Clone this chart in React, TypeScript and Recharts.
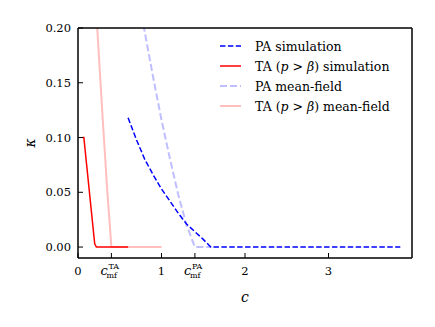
import { LineChart, Line, XAxis, YAxis } from "recharts";

// PA simulation
const paSimC = [0.6, 0.7, 0.8, 0.9, 1.0, 1.1, 1.2, 1.3, 1.4, 1.5, 1.59, 2.0, 2.5, 3.0, 3.5, 3.86];
const paSimK = [0.118, 0.098, 0.08, 0.066, 0.053, 0.042, 0.031, 0.021, 0.014, 0.007, 0, 0, 0, 0, 0, 0];

// TA (p > beta) simulation
const taSimC = [0.055, 0.07, 0.2, 0.22, 0.3, 0.4, 0.5, 0.6];
const taSimK = [0.1, 0.1, 0.003, 0, 0, 0, 0, 0];

// PA mean-field
const paMfC = [0.7, 0.8, 0.9, 1.0, 1.1, 1.2, 1.3, 1.4, 1.6];
const paMfK = [0.239, 0.196, 0.155, 0.116, 0.081, 0.048, 0.02, 0, 0];

// TA (p > beta) mean-field
const taMfC = [0.2, 0.25, 0.3, 0.35, 0.4, 1.0];
const taMfK = [0.24, 0.175, 0.112, 0.052, 0, 0];

const xTicks = [0, 0.4, 1, 1.4, 2, 3];
const yTicks = [0, 0.05, 0.1, 0.15, 0.2];

const zip = (cs: number[], ks: number[]) => cs.map((c, i) => ({ c, k: ks[i] }));

const series = [
  { name: "PA simulation", data: zip(paSimC, paSimK), color: "#0000ff", width: 1.5, dash: "5.5 2.4" },
  { name: "TA (p > β) simulation", data: zip(taSimC, taSimK), color: "#ff0000", width: 1.5, dash: undefined },
  { name: "PA mean-field", data: zip(paMfC, paMfK), color: "#bfbfff", width: 2, dash: "7 3" },
  { name: "TA (p > β) mean-field", data: zip(taMfC, taMfK), color: "#ffbfbf", width: 2, dash: undefined },
];

const FONT = "DejaVu Serif";

function XTick(props: any) {
  const { x, payload } = props;
  const v = payload.value;
  const base = 275;
  if (v === 0.4 || v === 1.4) {
    const sup = v === 0.4 ? "TA" : "PA";
    return (
      <g style={{ fontFamily: FONT }} fill="#000">
        <text x={x - 11} y={base} fontSize={13} fontStyle="italic">c</text>
        <text x={x - 3} y={base - 6} fontSize={8}>{sup}</text>
        <text x={x - 5} y={base + 3} fontSize={8}>mf</text>
      </g>
    );
  }
  return (
    <text x={x} y={base} textAnchor="middle" fontSize={11.5} style={{ fontFamily: FONT }} fill="#000">
      {String(v)}
    </text>
  );
}

function LegendBox() {
  return (
    <g style={{ fontFamily: FONT }}>
      {series.map((s, i) => {
        const y = 46 + i * 20;
        return (
          <g key={s.name}>
            <line x1={220} x2={241} y1={y} y2={y} stroke={s.color} strokeWidth={s.width} strokeDasharray={s.dash} />
            <text x={255} y={y + 4.5} fontSize={12.5} fill="#000">
              {s.name.startsWith("PA") ? (
                s.name
              ) : (
                <>
                  TA (<tspan fontStyle="italic">p</tspan> &gt; <tspan fontStyle="italic">β</tspan>){" "}
                  {s.name.endsWith("simulation") ? "simulation" : "mean-field"}
                </>
              )}
            </text>
          </g>
        );
      })}
    </g>
  );
}

export default function App() {
  return (
    <div style={{ position: "absolute", left: 0, top: 0, width: 435, height: 327, background: "#fff" }}>
      <LineChart width={435} height={327} margin={{ top: 27, right: 22, bottom: 39, left: 28 }}>
        <XAxis
          xAxisId="bottom"
          dataKey="c"
          type="number"
          domain={[0, 4]}
          ticks={xTicks}
          allowDataOverflow
          height={30}
          stroke="#000"
          strokeWidth={1.5}
          tickSize={-5}
          tickMargin={10}
          tickLine={{ stroke: "#000", strokeWidth: 1 }}
          tick={<XTick />}
          interval={0}
        />
        <XAxis
          xAxisId="top"
          orientation="top"
          type="number"
          domain={[0, 4]}
          ticks={xTicks}
          height={1}
          stroke="#000"
          strokeWidth={1.5}
          tickSize={-5}
          tickLine={{ stroke: "#000", strokeWidth: 1 }}
          tick={false}
          interval={0}
        />
        <YAxis
          yAxisId="left"
          type="number"
          domain={[-0.01, 0.2]}
          ticks={yTicks}
          allowDataOverflow
          width={50}
          stroke="#000"
          strokeWidth={1.5}
          tickSize={-5}
          tickMargin={12}
          tickLine={{ stroke: "#000", strokeWidth: 1 }}
          tick={{ fill: "#000", fontSize: 11.5, fontFamily: FONT }}
          tickFormatter={(v: number) => v.toFixed(2)}
          interval={0}
        />
        <YAxis
          yAxisId="right"
          orientation="right"
          type="number"
          domain={[-0.01, 0.2]}
          ticks={yTicks}
          width={1}
          stroke="#000"
          strokeWidth={1.5}
          tickSize={-5}
          tickLine={{ stroke: "#000", strokeWidth: 1 }}
          tick={false}
          interval={0}
        />
        {series
          .slice()
          .reverse()
          .map((s) => (
            <Line
              key={s.name}
              xAxisId="bottom"
              yAxisId="left"
              data={s.data}
              dataKey="k"
              name={s.name}
              type="linear"
              stroke={s.color}
              strokeWidth={s.width}
              strokeDasharray={s.dash}
              dot={false}
              activeDot={false}
              isAnimationActive={false}
            />
          ))}
      </LineChart>
      <div style={{ position: "absolute", left: 0, top: 0, pointerEvents: "none" }}>
        <svg width={435} height={327}>
          <LegendBox />
          <text x={245} y={302} textAnchor="middle" fontSize={14} fontStyle="italic" style={{ fontFamily: FONT }}>c</text>
          <text x={35} y={143} textAnchor="middle" fontSize={14} fontStyle="italic" style={{ fontFamily: FONT }} transform="rotate(-90 35 143)">κ</text>
        </svg>
      </div>
    </div>
  );
}
